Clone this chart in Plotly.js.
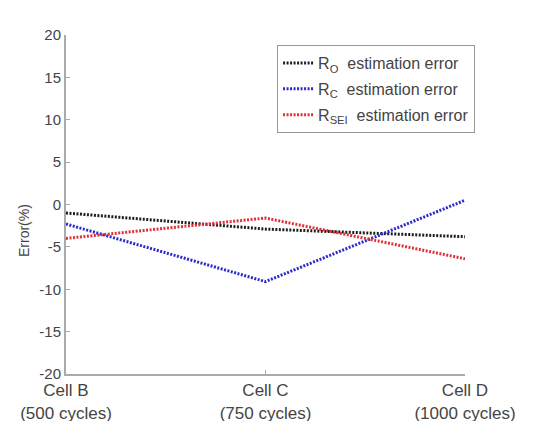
<!DOCTYPE html>
<html>
<head>
<meta charset="utf-8">
<script src="https://cdn.plot.ly/plotly-3.0.1.min.js"></script>
<style>html,body{margin:0;padding:0;background:#fff;}#chart{width:552px;height:421px;}</style>
</head>
<body>
<div id="chart"></div>
<script>
var categories = ["Cell B<br>(500 cycles)", "Cell C<br>(750 cycles)", "Cell D<br>(1000 cycles)"];
var roError = [-1.0, -2.9, -3.8];
var rcError = [-2.3, -9.1, 0.5];
var rseiError = [-4.0, -1.6, -6.4];
var seriesNames = ["R<sub>O</sub>  estimation error", "R<sub>C</sub>  estimation error", "R<sub>SEI</sub>  estimation error"];
var yTicks = [-20, -15, -10, -5, 0, 5, 10, 15, 20];
var yTickText = ["-20", "-15", "-10", "-5", "0", "5", "10", "15", "20"];
var yTitle = "Error(%)";

var xIdx = categories.map(function(_, i){ return i; });
function tr(y, name, color, g){
  return {x: xIdx, y: y, name: name, type: 'scatter', mode: 'lines', legendgroup: g,
          line: {color: color, width: 3, dash: '2px,1.5px'}};
}
var data = [
  tr(roError, seriesNames[0], '#1e1e1e', 'a'),
  tr(rcError, seriesNames[1], '#2b2bcc', 'b'),
  tr(rseiError, seriesNames[2], '#e0303a', 'c')
];
var layout = {
  width: 552, height: 421,
  margin: {l: 66, r: 87, t: 35, b: 47},
  paper_bgcolor: '#fff', plot_bgcolor: '#fff',
  font: {family: 'Liberation Sans, Arial, sans-serif', size: 14, color: '#444'},
  showlegend: true,
  legend: {x: 0.529, y: 0.97, xanchor: 'left', yanchor: 'top',
           bgcolor: '#fff', bordercolor: '#999', borderwidth: 1,
           font: {size: 16, color: '#444'}, tracegroupgap: 2},
  xaxis: {range: [0, 2], tickvals: xIdx, ticktext: categories,
          showgrid: false, zeroline: false, showline: true, linecolor: '#aaa', linewidth: 2,
          ticks: 'inside', ticklen: 4, tickcolor: '#aaa',
          tickfont: {size: 17, color: '#444'}},
  yaxis: {range: [-20, 20], tickvals: yTicks, ticktext: yTickText,
          showgrid: false, zeroline: false, showline: true, linecolor: '#aaa', linewidth: 2,
          ticks: 'inside', ticklen: 4, tickcolor: '#aaa',
          tickfont: {size: 15, color: '#444'}},
  annotations: [{text: yTitle, xref: 'paper', yref: 'paper', x: (24 - 66) / 399, y: (374 - 231) / 339,
                 xanchor: 'center', yanchor: 'middle', textangle: -90, showarrow: false,
                 font: {size: 14, color: '#444'}}]
};
Plotly.newPlot('chart', data, layout, {displayModeBar: false, staticPlot: true});
</script>
</body>
</html>
